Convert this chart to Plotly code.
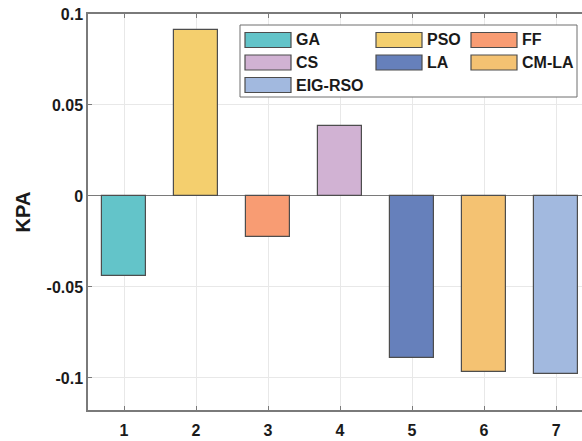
import plotly.graph_objects as go

# ---- data ----
methods = ["GA", "PSO", "FF", "CS", "LA", "CM-LA", "EIG-RSO"]
positions = [1, 2, 3, 4, 5, 6, 7]
kpa_values = [-0.044, 0.0912, -0.0227, 0.0385, -0.0892, -0.0965, -0.098]
bar_colors = ["#63C4C9", "#F4CF6E", "#F89C73", "#D1B2D3", "#6680BB", "#F4C272", "#A2B9DF"]
y_tick_vals = [-0.1, -0.05, 0, 0.05, 0.1]
y_tick_text = ["-0.1", "-0.05", "0", "0.05", "0.1"]
x_tick_vals = [1, 2, 3, 4, 5, 6, 7]

W, H = 582, 441
L, R, T, B = 88, 0, 14, 31
FONT = "Liberation Sans, Arial, sans-serif"

fig = go.Figure()
fig.add_trace(go.Bar(
    x=positions, y=kpa_values, width=0.6,
    marker=dict(color=bar_colors, line=dict(color="#4d4d4d", width=1.2)),
    showlegend=False, hoverinfo="x+y",
))

# ---- custom legend (MATLAB-like wide swatches) ----
pw, ph = W - L - R, H - T - B
def px(x):
    return (x - L) / pw
def py(y):
    return (H - B - y) / ph

shapes = [dict(type="rect", xref="paper", yref="paper",
               x0=px(240), x1=px(577), y0=py(97), y1=py(25),
               line=dict(color="#6e6e6e", width=1), fillcolor="white", layer="above")]
annotations = []
col_sw = [245, 376, 471]
col_tx = [294, 425, 520]
row_c = [40, 62.5, 85]
for i, (name, col) in enumerate(zip(methods, bar_colors)):
    r, c = divmod(i, 3)
    shapes.append(dict(type="rect", xref="paper", yref="paper",
                       x0=px(col_sw[c]), x1=px(col_sw[c] + 46),
                       y0=py(row_c[r] + 7.5), y1=py(row_c[r] - 7.5),
                       line=dict(color="#4d4d4d", width=1.2), fillcolor=col, layer="above"))
    annotations.append(dict(xref="paper", yref="paper", x=px(col_tx[c]), y=py(row_c[r]),
                            text="<b>%s</b>" % name, showarrow=False, xanchor="left",
                            yanchor="middle", font=dict(family=FONT, size=16, color="#1a1a1a")))

fig.update_layout(
    width=W, height=H,
    margin=dict(l=L, r=R, t=T, b=B),
    paper_bgcolor="white", plot_bgcolor="white",
    font=dict(family=FONT, color="#1a1a1a"),
    shapes=shapes, annotations=annotations,
    bargap=0,
)
fig.update_xaxes(
    range=[0.5, 7.36], tickvals=x_tick_vals,
    ticktext=["<b>%d</b>" % v for v in x_tick_vals],
    tickfont=dict(size=16, family=FONT, color="#1a1a1a"),
    ticklabelstandoff=5,
    showgrid=True, gridcolor="#e8e8e8", gridwidth=1,
    showline=True, linecolor="#7a7a7a", linewidth=1.5, mirror="ticks",
    ticks="inside", ticklen=4, tickcolor="#7a7a7a", zeroline=False,
)
fig.update_yaxes(
    range=[-0.1176, 0.1], tickvals=y_tick_vals,
    ticktext=["<b>%s</b>" % t for t in y_tick_text],
    tickfont=dict(size=16, family=FONT, color="#1a1a1a"),
    showgrid=True, gridcolor="#e8e8e8", gridwidth=1,
    showline=True, linecolor="#7a7a7a", linewidth=1.5, mirror=False,
    ticks="inside", ticklen=4, tickcolor="#7a7a7a",
    zeroline=True, zerolinecolor="#7a7a7a", zerolinewidth=1.2,
    title=dict(text="<b>KPA</b>", font=dict(size=20, family=FONT, color="#1a1a1a"), standoff=11),
)

fig.write_html(
    "out.html",
    config={"displayModeBar": False},
    post_script="document.body.style.margin='0';document.body.style.overflow='hidden';",
)
